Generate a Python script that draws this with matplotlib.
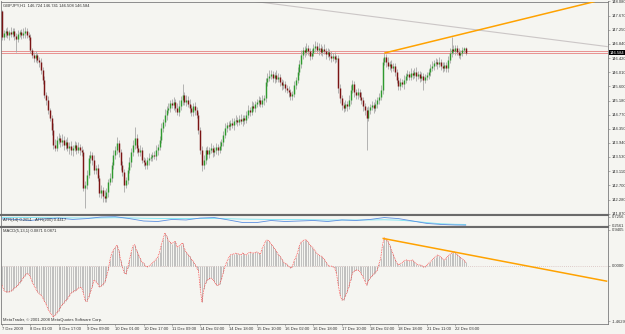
"""GBPJPY H1 MetaTrader-style chart: candles, ATR pair, MACD histogram."""

import matplotlib

matplotlib.use("Agg")
import matplotlib.pyplot as plt
import matplotlib.transforms as mtransforms
import numpy as np

plt.rcParams["font.family"] = ["Liberation Sans", "DejaVu Sans"]

# ---- data ----
FIRST_OPEN = 147.80
CLOSES = [
    147.04, 147.16, 147.22, 147.10, 147.19, 147.13, 147.22, 147.07, 146.98, 147.13, 147.19, 147.10, 147.16, 147.22, 147.10, 147.04,
    146.66, 146.51, 146.42, 146.51, 146.37, 146.31, 146.07, 145.78, 145.34, 145.19, 144.90, 144.67, 144.32, 143.88, 143.79, 144.02,
    144.08, 143.96, 144.02, 143.88, 143.96, 143.79, 143.85, 143.73, 143.79, 143.88, 143.73, 143.82, 143.73, 143.67, 142.62, 142.71,
    143.00, 143.50, 143.58, 143.44, 143.14, 143.20, 142.91, 142.47, 142.56, 142.38, 142.32, 142.50, 142.79, 142.91, 143.29, 143.58,
    143.73, 143.93, 143.67, 143.29, 143.09, 142.71, 142.85, 143.14, 143.38, 143.67, 143.88, 144.08, 143.79, 143.67, 143.73, 143.44,
    143.38, 143.29, 143.44, 143.50, 143.53, 143.58, 143.56, 143.73, 143.82, 144.02, 144.37, 144.55, 144.76, 144.90, 144.96, 145.11,
    145.05, 145.14, 144.96, 144.84, 145.02, 145.19, 145.34, 145.14, 145.19, 145.08, 144.96, 144.84, 145.02, 144.90, 144.76, 144.32,
    143.73, 143.29, 143.44, 143.73, 143.61, 143.73, 143.79, 143.67, 143.73, 143.82, 143.73, 143.85, 143.96, 144.17, 144.37, 144.46,
    144.43, 144.52, 144.46, 144.58, 144.61, 144.55, 144.64, 144.58, 144.67, 144.61, 144.76, 144.90, 144.84, 145.02, 144.96, 145.08,
    145.14, 145.19, 145.08, 145.19, 145.25, 145.72, 145.84, 145.90, 145.96, 145.84, 145.93, 145.81, 145.87, 145.72, 145.63, 145.66,
    145.55, 145.49, 145.43, 145.31, 145.37, 145.63, 145.78, 146.01, 146.25, 146.51, 146.66, 146.60, 146.72, 146.63, 146.48, 146.57,
    146.72, 146.78, 146.66, 146.72, 146.60, 146.69, 146.63, 146.54, 146.60, 146.48, 146.42, 146.48, 146.40, 146.42, 145.55, 145.25,
    145.05, 144.96, 145.08, 145.02, 145.19, 145.49, 145.66, 145.43, 145.34, 145.43, 145.28, 145.19, 145.02, 144.90, 144.67, 144.90,
    144.99, 145.05, 144.96, 145.08, 145.19, 145.28, 145.49, 146.31, 146.45, 146.31, 146.19, 146.25, 146.13, 146.19, 146.01, 145.78,
    145.60, 145.72, 145.66, 145.78, 145.90, 145.96, 145.87, 145.99, 145.93, 146.01, 145.90, 145.96, 145.84, 145.90, 145.78, 145.87,
    145.93, 146.01, 146.13, 146.19, 146.28, 146.31, 146.25, 146.31, 146.19, 146.13, 146.22, 146.13, 146.37, 146.57, 146.69, 146.63,
    146.72, 146.60, 146.51, 146.57, 146.66, 146.724, 146.584,
]
# upper / lower shadow beyond the body, in pips (0.01 JPY)
WICK_HI = [
    3, 10, 8, 12, 6, 14, 9, 7, 10, 12, 6, 9, 15, 10, 7, 9,
    8, 6, 10, 12, 7, 9, 11, 8, 13, 9, 11, 7, 10, 20, 18, 12,
    15, 10, 18, 12, 9, 16, 11, 14, 8, 12, 10, 15, 9, 11, 8, 12,
    15, 10, 12, 9, 14, 10, 12, 8, 15, 10, 18, 12, 9, 14, 10, 15,
    12, 18, 10, 9, 12, 8, 10, 9, 14, 12, 15, 32, 12, 10, 14, 9,
    10, 12, 9, 14, 10, 9, 12, 15, 10, 12, 14, 10, 18, 12, 15, 10,
    12, 15, 10, 14, 17, 12, 32, 10, 14, 12, 15, 10, 9, 12, 10, 9,
    10, 12, 14, 9, 12, 10, 15, 9, 10, 12, 9, 14, 10, 12, 15, 10,
    12, 10, 14, 9, 15, 10, 12, 14, 10, 9, 12, 15, 10, 14, 12, 10,
    10, 12, 9, 15, 10, 12, 14, 18, 12, 10, 9, 14, 12, 10, 9, 12,
    10, 9, 12, 10, 9, 12, 10, 14, 12, 15, 10, 12, 14, 10, 9, 12,
    12, 14, 10, 14, 12, 10, 15, 9, 12, 10, 14, 9, 12, 10, 8, 12,
    10, 9, 12, 10, 14, 15, 12, 10, 9, 12, 10, 14, 9, 10, 8, 12,
    10, 12, 9, 14, 10, 12, 15, 12, 12, 10, 14, 9, 12, 10, 9, 8,
    9, 12, 10, 14, 9, 12, 10, 15, 9, 12, 14, 10, 9, 12, 10, 9,
    10, 9, 12, 14, 10, 12, 9, 14, 10, 12, 9, 10, 12, 15, 35, 12,
    10, 9, 12, 10, 9, 2, 2,
]
WICK_LO = [
    9, 10, 12, 8, 14, 9, 10, 12, 38, 10, 9, 12, 8, 14, 10, 9,
    10, 9, 12, 10, 9, 14, 10, 12, 9, 15, 12, 10, 14, 12, 10, 9,
    12, 14, 10, 15, 12, 10, 16, 14, 18, 10, 12, 9, 14, 12, 10, 59,
    12, 10, 15, 14, 10, 12, 9, 12, 15, 18, 12, 10, 14, 9, 12, 10,
    10, 12, 15, 14, 12, 21, 10, 12, 9, 14, 10, 12, 15, 10, 12, 10,
    12, 12, 10, 14, 9, 12, 10, 12, 15, 10, 9, 12, 10, 14, 9, 12,
    10, 14, 12, 9, 10, 12, 14, 10, 12, 9, 15, 10, 12, 14, 10, 12,
    12, 18, 10, 12, 14, 10, 9, 15, 12, 10, 14, 9, 12, 10, 9, 12,
    10, 12, 9, 14, 10, 12, 9, 10, 14, 12, 9, 10, 12, 9, 10, 12,
    9, 12, 10, 9, 14, 10, 12, 9, 10, 12, 14, 10, 9, 12, 15, 10,
    12, 10, 14, 12, 10, 9, 12, 10, 9, 12, 10, 14, 9, 12, 10, 9,
    10, 12, 9, 14, 10, 12, 10, 14, 9, 12, 10, 9, 12, 10, 15, 15,
    14, 12, 10, 15, 9, 12, 10, 14, 12, 10, 9, 12, 14, 15, 94, 10,
    12, 10, 14, 9, 12, 10, 9, 12, 10, 14, 9, 12, 10, 9, 12, 10,
    10, 12, 9, 14, 10, 12, 9, 10, 12, 9, 14, 10, 12, 9, 29, 10,
    9, 12, 10, 9, 12, 10, 14, 9, 12, 10, 9, 12, 10, 9, 12, 10,
    12, 10, 9, 12, 10, 9, 8,
]
MACD = [
    -0.51, -0.64, -0.69, -0.69, -0.69, -0.67, -0.64, -0.59, -0.56, -0.51, -0.45, -0.40, -0.32, -0.26, -0.21, -0.22,
    -0.30, -0.42, -0.52, -0.60, -0.68, -0.73, -0.78, -0.84, -0.94, -1.02, -1.14, -1.22, -1.28, -1.35, -1.30, -1.24,
    -1.18, -1.10, -1.03, -0.98, -0.92, -0.87, -0.80, -0.73, -0.69, -0.66, -0.64, -0.60, -0.57, -0.58, -0.72, -0.92,
    -0.94, -0.82, -0.70, -0.55, -0.38, -0.42, -0.47, -0.56, -0.54, -0.50, -0.44, -0.30, -0.12, 0.15, 0.32, 0.41,
    0.48, 0.54, 0.40, 0.15, -0.03, -0.18, -0.22, -0.06, 0.15, 0.35, 0.52, 0.55, 0.40, 0.30, 0.20, 0.10,
    0.07, -0.01, -0.03, -0.01, 0.02, 0.07, 0.12, 0.17, 0.22, 0.35, 0.55, 0.70, 0.86, 0.78, 0.66, 0.62,
    0.58, 0.62, 0.64, 0.48, 0.52, 0.55, 0.60, 0.45, 0.36, 0.30, 0.25, 0.17, 0.12, 0.04, -0.05, -0.13,
    -0.60, -0.96, -0.62, -0.45, -0.38, -0.34, -0.33, -0.36, -0.42, -0.50, -0.52, -0.48, -0.36, -0.19, -0.02, 0.10,
    0.20, 0.28, 0.30, 0.31, 0.33, 0.32, 0.30, 0.28, 0.34, 0.30, 0.28, 0.32, 0.36, 0.34, 0.33, 0.35,
    0.36, 0.33, 0.30, 0.45, 0.55, 0.65, 0.68, 0.64, 0.58, 0.52, 0.45, 0.38, 0.30, 0.25, 0.18, 0.10,
    0.06, 0.04, -0.02, -0.06, -0.03, 0.12, 0.22, 0.34, 0.52, 0.62, 0.66, 0.68, 0.68, 0.62, 0.55, 0.50,
    0.45, 0.38, 0.32, 0.28, 0.26, 0.23, 0.18, 0.10, 0.02, -0.01, -0.01, -0.03, -0.06, -0.20, -0.51, -0.77,
    -0.90, -0.90, -0.80, -0.69, -0.55, -0.38, -0.20, -0.15, -0.11, -0.12, -0.14, -0.22, -0.30, -0.40, -0.51, -0.40,
    -0.33, -0.28, -0.22, -0.18, -0.12, 0.05, 0.20, 0.55, 0.73, 0.70, 0.64, 0.55, 0.42, 0.30, 0.18, 0.08,
    0.02, 0.05, 0.08, 0.12, 0.15, 0.15, 0.12, 0.14, 0.15, 0.10, 0.05, 0.02, 0.02, 0.01, -0.03, -0.03,
    0.02, 0.06, 0.10, 0.15, 0.20, 0.24, 0.28, 0.26, 0.22, 0.18, 0.15, 0.20, 0.25, 0.30, 0.33, 0.35,
    0.36, 0.30, 0.25, 0.22, 0.18, 0.14, 0.0871,
]

ATR_BARS = list(range(0, 263, 8)) + [262]
ATR_FAST = [0.61, 0.58, 0.52, 0.61, 0.66, 0.58, 0.63, 0.72, 0.74, 0.63, 0.49, 0.46, 0.58, 0.55, 0.66, 0.69, 0.55,
            0.40, 0.40, 0.52, 0.46, 0.49, 0.52, 0.46, 0.55, 0.52, 0.58, 0.69, 0.63, 0.49, 0.35, 0.29, 0.26, 0.25]
ATR_SLOW = [0.69, 0.70, 0.69, 0.68, 0.67, 0.67, 0.66, 0.67, 0.68, 0.67, 0.65, 0.64, 0.64, 0.63, 0.64, 0.64, 0.62,
            0.60, 0.59, 0.58, 0.57, 0.57, 0.56, 0.55, 0.55, 0.55, 0.55, 0.56, 0.54, 0.48, 0.40, 0.33, 0.30, 0.29]

# trend lines as (bar, value) pairs
PRICE_TREND_ORANGE = ([216, 335], [146.57, 148.08])
PRICE_TREND_GRAY = ([143, 342], [148.08, 146.76])
MACD_TREND = ([215, 342], [0.72, -0.41])
H_LINES = [146.64, 146.584]

DATE_BARS = list(range(0, 257, 16))
DATE_LABELS = [
    "7 Dec 2009", "8 Dec 01:00", "8 Dec 17:00", "9 Dec 09:00", "10 Dec 01:00", "10 Dec 17:00",
    "11 Dec 09:00", "14 Dec 02:00", "14 Dec 18:00", "15 Dec 10:00", "16 Dec 02:00", "16 Dec 18:00",
    "17 Dec 10:00", "18 Dec 02:00", "18 Dec 18:00", "21 Dec 11:00", "22 Dec 03:00",
]
PRICE_TICKS = [148.080, 147.670, 147.250, 146.840, 146.420, 146.010, 145.600, 145.180,
               144.770, 144.350, 143.940, 143.530, 143.110, 142.700, 142.280, 141.870]
ATR_TICKS = [0.7256, 0.2561]
MACD_TICKS = [0.9405, 0.0, -1.4629]

# ---- styling ----
BG = "#f5f5f1"
BORDER = "#7c7c7c"
TXT = "#333333"
BULL = "#2f9a2f"
BEAR = "#7a1414"
WICK = "#a8a8a8"
FS = 3.0

W, H = 625, 334
fig = plt.figure(figsize=(W / 100, H / 100), dpi=100, facecolor=BG)


def add_panel(top_px, bottom_px):
    return fig.add_axes([1 / W, 1 - bottom_px / H, 607 / W, (bottom_px - top_px) / H], facecolor=BG)


ax = add_panel(1.5, 215)
ax_atr = add_panel(215, 227)
ax_m = add_panel(227, 324)

xlim = (-0.56, 342.4)
for a in (ax, ax_atr, ax_m):
    a.set_xlim(*xlim)
    for side, sp in a.spines.items():
        sp.set_color(BORDER)
        sp.set_linewidth(0.6)
    a.tick_params(axis="y", left=False, labelleft=False, right=True, labelright=True,
                  labelsize=FS, length=1.5, width=0.4, pad=1, colors=BORDER, labelcolor=TXT)
    a.tick_params(axis="x", bottom=False, labelbottom=False)

for sp in (ax.spines["bottom"], ax_atr.spines["top"], ax_atr.spines["bottom"], ax_m.spines["top"]):
    sp.set_linewidth(1.5)
    sp.set_color("#6a6a6a")

# ---- candles ----
closes = np.array(CLOSES)
opens = np.concatenate([[FIRST_OPEN], closes[:-1]])
highs = np.maximum(opens, closes) + np.array(WICK_HI) / 100
lows = np.minimum(opens, closes) - np.array(WICK_LO) / 100
bars = np.arange(len(closes))
up = closes >= opens

for y in H_LINES:
    ax.axhline(y, color="#e36b6b", lw=0.5, zorder=1)
ax.plot(*PRICE_TREND_GRAY, color="#cbc6c6", lw=0.8, zorder=1)
ax.vlines(bars, lows, highs, color=WICK, lw=0.6, zorder=2)
ax.vlines(bars[up], opens[up], closes[up], color=BULL, lw=1.05, zorder=3)
ax.vlines(bars[~up], closes[~up], opens[~up], color=BEAR, lw=1.05, zorder=3)
ax.plot(*PRICE_TREND_ORANGE, color="#ffa200", lw=1.1, zorder=4, solid_capstyle="butt")

ax.set_ylim(141.83, 148.08)
ax.set_yticks(PRICE_TICKS)
ax.set_yticklabels([f"{v:.3f}" for v in PRICE_TICKS])
ax.text(0.004, 0.99, "GBPJPY,H1  146.724 146.741 146.508 146.584", transform=ax.transAxes,
        fontsize=FS, color=TXT, va="top", ha="left")
blend = mtransforms.blended_transform_factory(ax.transAxes, ax.transData)
ax.text(1.003, CLOSES[-1], f"{CLOSES[-1]:.3f}", transform=blend, fontsize=FS, color="white",
        va="center", ha="left", bbox=dict(facecolor="black", edgecolor="none", pad=0.4), zorder=6)

# ---- ATR panel ----
ax_atr.plot(ATR_BARS, ATR_SLOW, color="#74e4f4", lw=0.6)
ax_atr.plot(ATR_BARS, ATR_FAST, color="#5d8fe0", lw=0.6)
ax_atr.set_ylim(0.142, 0.838)
ax_atr.set_yticks(ATR_TICKS)
ax_atr.set_yticklabels([f"{v:.4f}" for v in ATR_TICKS])
ax_atr.text(0.004, 0.55, "ATR(14) 0.2651   ATR(200) 0.4417", transform=ax_atr.transAxes,
            fontsize=FS, color=TXT, va="center", ha="left")

# ---- MACD panel ----
macd = np.array(MACD)
ax_m.axhline(0, color="#c9a6a6", lw=0.5, ls=(0, (1, 2)))
ax_m.vlines(bars, 0, macd, color="#ababab", lw=0.5)
ax_m.plot(bars, macd, color="#ff2f2f", lw=0.55, ls=(0, (1, 1.2)))
ax_m.plot(*MACD_TREND, color="#ffa200", lw=1.1, solid_capstyle="butt")
ax_m.set_ylim(-1.534, 1.018)
ax_m.set_yticks(MACD_TICKS)
ax_m.set_yticklabels([f"{v:.4f}" for v in MACD_TICKS])
ax_m.text(0.004, 0.975, "MACD(5,13,1) 0.0871 0.0871", transform=ax_m.transAxes,
          fontsize=FS, color=TXT, va="top", ha="left")
ax_m.text(0.004, 0.02, "MetaTrader, \u00a9 2001-2008 MetaQuotes Software Corp.", transform=ax_m.transAxes,
          fontsize=FS, color=TXT, va="bottom", ha="left")

ax_m.tick_params(axis="x", bottom=True, labelbottom=True, labelsize=FS, length=1.5, width=0.4,
                 pad=1, colors=BORDER, labelcolor=TXT)
ax_m.set_xticks(DATE_BARS)
ax_m.set_xticklabels(DATE_LABELS, ha="left")

fig.savefig("out.png", dpi=100, facecolor=BG)
